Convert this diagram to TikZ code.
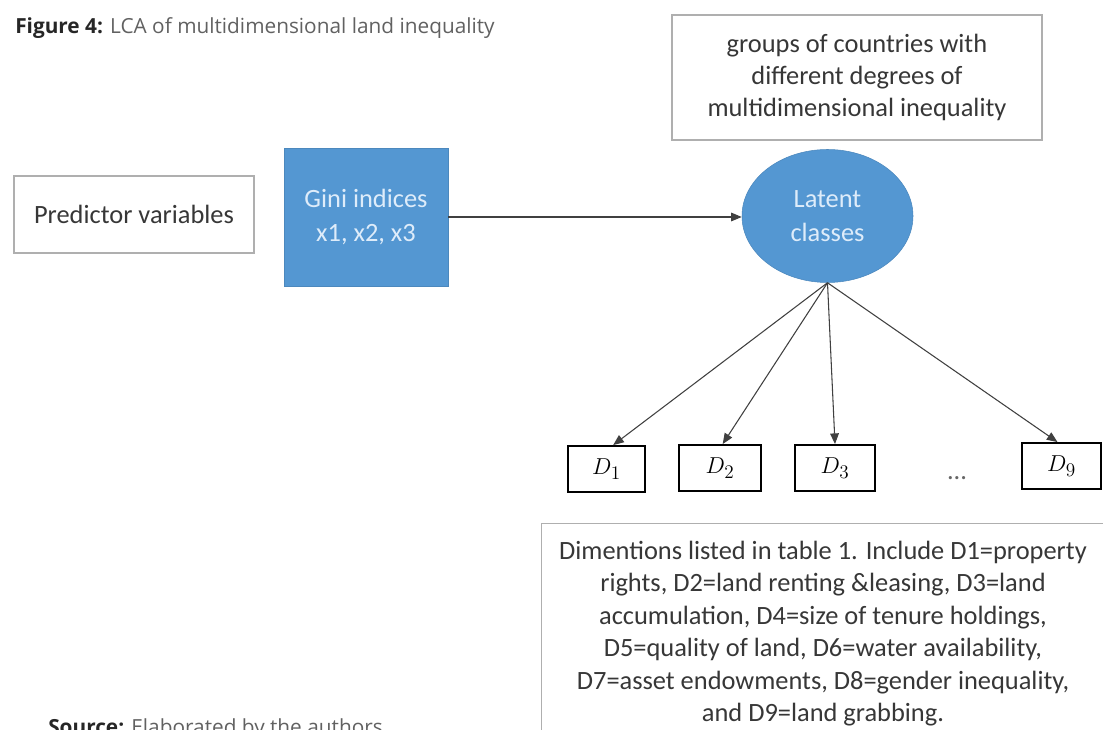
\documentclass[tikz,border=0pt]{standalone}
\usepackage{fontspec}
\setmainfont{Carlito}
\newfontfamily\titlefont{Open Sans}
\usetikzlibrary{arrows.meta,shapes.geometric}
\definecolor{lcablue}{RGB}{84,151,210}
\definecolor{lcatext}{RGB}{55,55,55}
\definecolor{lcaboxline}{RGB}{175,175,175}
\definecolor{lcainner}{RGB}{222,236,250}
\begin{document}
\begin{tikzpicture}[x=0.75pt,y=-0.75pt,
  greybox/.style={draw=lcaboxline, line width=1pt, fill=white, inner sep=0pt},
  body/.style={font=\fontsize{19.8}{24}\selectfont, text=lcatext, align=center},
  bluebox/.style={fill=lcablue, draw=lcablue!90!black, line width=0.4pt, inner sep=0pt,
    font=\fontsize{19.8}{25.5}\selectfont, text=lcainner, align=center},
  dbox/.style={draw=black, line width=1.4pt, minimum height=34.5pt, inner sep=0pt,
    font=\fontsize{19}{21}\selectfont},
  arr/.style={draw=black!75, line width=0.8pt, -{Triangle[length=8pt,width=6.5pt]}},
  captionfont/.style={font=\titlefont\fontsize{15.6}{18}\selectfont, text=black!62, inner sep=0pt}
]
\useasboundingbox (0,0) rectangle (1103,730);

\node[captionfont, anchor=base west] (title) at (15,34)
  {\textbf{\color{black!85}Figure 4:} LCA of multidimensional land inequality};

\node[greybox, body, minimum width=277.5pt, minimum height=93.75pt] (groups) at (857,77.5)
  {groups of countries with\\different degrees of\\multidimensional inequality};

\node[greybox, body, minimum width=180pt, minimum height=57.75pt] (pred) at (134,214.5)
  {Predictor variables};

\node[bluebox, minimum width=123pt, minimum height=103.5pt] (gini) at (366,217)
  {Gini indices\\x1, x2, x3};

\node[bluebox, ellipse, minimum width=128.25pt, minimum height=99.75pt] (lc) at (827.5,216)
  {Latent\\classes};

\draw[arr] (gini.east) -- (gini.east -| lc.west);

\node[dbox, minimum width=57.75pt] (d1) at (606.5,469) {$D_1$};
\node[dbox, minimum width=61.5pt] (d2) at (720,468) {$D_2$};
\node[dbox, minimum width=60pt] (d3) at (835,468) {$D_3$};
\node[dbox, minimum width=59.25pt] (d9) at (1061.5,466) {$D_9$};
\node[body, text=black!60] (dots) at (957,478) {...};

\draw[arr] (lc.south) -- ([xshift=5pt]d1.north);
\draw[arr] (lc.south) -- ([xshift=2pt]d2.north);
\draw[arr] (lc.south) -- (d3.north);
\draw[arr] (lc.south) -- ([xshift=-3pt]d9.north);

\node[greybox, minimum width=423pt, minimum height=170pt, anchor=north west] (dimbox) at (541,523) {};
\node[body, font=\fontsize{19.8}{24.3}\selectfont, anchor=north, inner sep=0pt] (dimtxt) at (823,541)
  {Dimentions listed in table 1. Include D1=property\\
   rights, D2=land renting \&leasing, D3=land\\
   accumulation, D4=size of tenure holdings,\\
   D5=quality of land, D6=water availability,\\
   D7=asset endowments, D8=gender inequality,\\
   and D9=land grabbing.};

\node[captionfont, anchor=base west] (src) at (48,734)
  {\textbf{\color{black!85}Source:} Elaborated by the authors};
\end{tikzpicture}
\end{document}
